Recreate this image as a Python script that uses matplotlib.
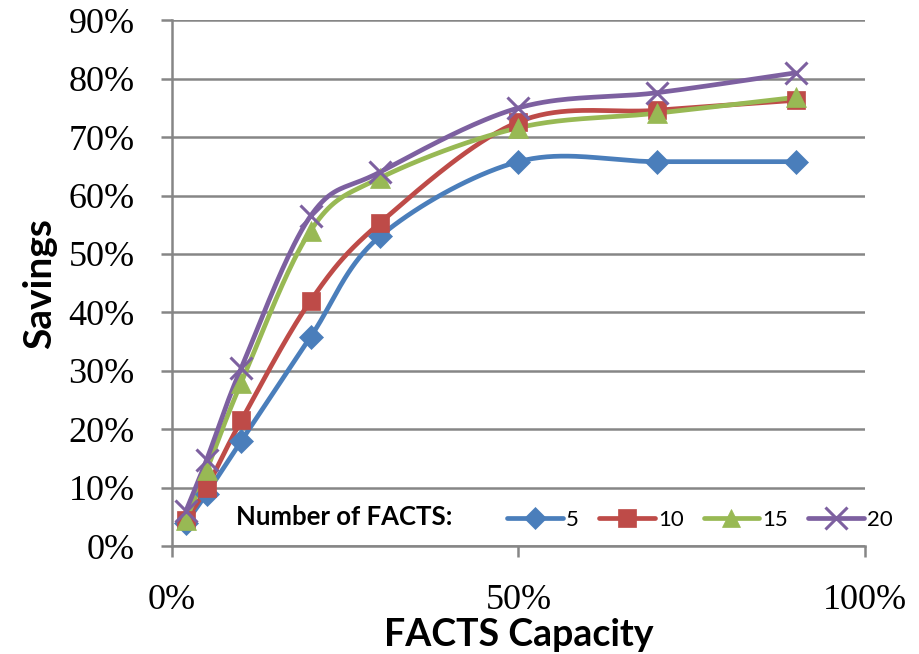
import numpy as np
import matplotlib
matplotlib.use("Agg")
import matplotlib.pyplot as plt
from matplotlib.lines import Line2D

# FACTS capacity (%) and savings (%) per number of FACTS devices
capacity = [2, 5, 10, 20, 30, 50, 70, 90]
savings_5 = [4.0, 9.0, 18.0, 35.8, 53.0, 65.8, 65.8, 65.8]
savings_10 = [4.5, 10.0, 21.5, 42.0, 55.3, 72.6, 74.6, 76.3]
savings_15 = [4.5, 13.0, 28.0, 54.0, 63.0, 71.6, 74.1, 76.8]
savings_20 = [6.0, 14.8, 30.5, 56.5, 64.0, 75.0, 77.6, 81.0]

series_labels = ["5", "10", "15", "20"]
colors = ["#4A7EBB", "#BE4B48", "#98B954", "#7D60A0"]
markers = ["D", "s", "^", "x"]
msizes = [12, 13, 14, 16]

x_ticks = [0, 50, 100]
y_ticks = list(range(0, 91, 10))


def smooth_curve(x, y, n=40):
    # Excel-style smoothed line: cubic Bezier segments through the points
    p = np.column_stack([x, y]).astype(float)
    out = []
    for i in range(len(p) - 1):
        p0 = p[i - 1] if i > 0 else p[i]
        p1, p2 = p[i], p[i + 1]
        p3 = p[i + 2] if i + 2 < len(p) else p[i + 1]
        c1 = p1 + (p2 - p0) / 6
        c2 = p2 - (p3 - p1) / 6
        t = np.linspace(0, 1, n)[:, None]
        seg = ((1 - t) ** 3) * p1 + 3 * ((1 - t) ** 2) * t * c1 + 3 * (1 - t) * t ** 2 * c2 + t ** 3 * p2
        out.append(seg if i == 0 else seg[1:])
    out = np.vstack(out)
    return out[:, 0], out[:, 1]


fig = plt.figure(figsize=(9.2, 6.54), dpi=100)
ax = fig.add_axes([0.187, 0.165, 0.753, 0.804])

grid_col = "#868686"
all_series = [savings_5, savings_10, savings_15, savings_20]
handles = []
for vals, lab, c, m, ms in zip(all_series, series_labels, colors, markers, msizes):
    sx, sy = smooth_curve(capacity, vals)
    ax.plot(sx, sy, color=c, lw=3.4, solid_capstyle="round", zorder=3)
    mew = 2.2 if m == "x" else 0.5
    ax.plot(capacity, vals, ls="none", marker=m, ms=ms, color=c, mec=c, mew=mew, zorder=4)
    handles.append(Line2D([0], [0], color=c, lw=3.4, marker=m, ms=ms * 0.95, mec=c,
                          mew=mew, solid_capstyle="round"))

ax.set_xlim(0, 100)
ax.set_ylim(0, 90)
ax.set_xticks(x_ticks)
ax.set_xticklabels([f"{v}%" for v in x_ticks])
ax.set_yticks(y_ticks)
ax.set_yticklabels([f"{v}%" for v in y_ticks])

ax.yaxis.grid(True, color=grid_col, lw=1.8, zorder=0)
ax.set_axisbelow(True)
for s in ["top", "right"]:
    ax.spines[s].set_visible(False)
for s in ["left", "bottom"]:
    ax.spines[s].set_color(grid_col)
    ax.spines[s].set_linewidth(1.8)
ax.tick_params(axis="both", direction="out", length=8, width=1.8, color=grid_col,
               labelsize=26)
ax.tick_params(axis="y", pad=19)
ax.tick_params(axis="x", pad=19)
for lab in ax.get_xticklabels() + ax.get_yticklabels():
    lab.set_fontfamily("Liberation Serif")

ax.set_ylabel("Savings", fontsize=28, fontweight="bold", family="Lato", labelpad=8)
ax.set_xlabel("FACTS Capacity", fontsize=27, fontweight="bold", family="Lato", labelpad=1)

ax.text(0.093, 0.056, "Number of FACTS:", transform=ax.transAxes, fontsize=18.5,
        fontweight="bold", family="Lato", va="center", ha="left", zorder=5)
leg = ax.legend(handles, series_labels, ncol=4, frameon=False, loc="center left",
                bbox_to_anchor=(0.455, 0.05), handlelength=2.5, handletextpad=0.15,
                columnspacing=0.9, prop={"family": "Lato", "size": 16})

fig.savefig("out.png", dpi=100)
